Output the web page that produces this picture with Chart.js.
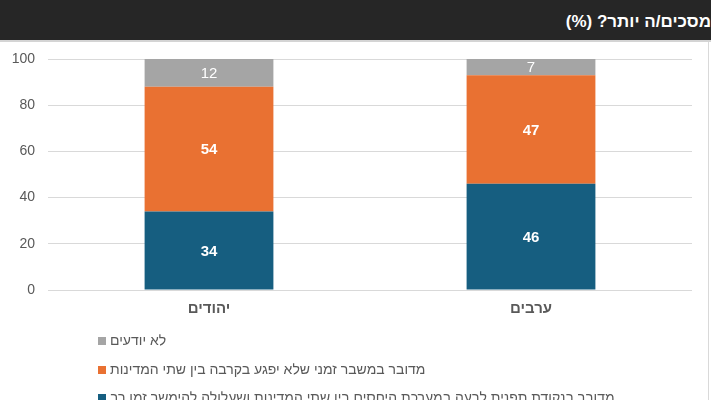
<!DOCTYPE html>
<html>
<head>
<meta charset="utf-8">
<script src="https://cdn.jsdelivr.net/npm/chart.js@4.4.0/dist/chart.umd.min.js"></script>
<style>
    body { margin: 0; background: #fff; width: 711px; height: 400px; overflow: hidden; font-family: "Liberation Sans", Arial, sans-serif; }
    #title { height: 40px; background: #262626; color: #fff; border-bottom: 2px solid #d4d4d4; direction: rtl; text-align: right; font-weight: bold; font-size: 17px; line-height: 44px; white-space: nowrap; overflow: hidden; }
    #wrap { position: relative; width: 708px; height: 358px; border-right: 1px solid #d9d9d9; }
</style>
</head>
<body>
<div id="title">מסכים/ה יותר? (%)</div>
<div id="wrap"><canvas id="chart"></canvas></div>
<script>
const categories = ['יהודים', 'ערבים'];
const turningPoint = [34, 46];
const temporaryCrisis = [54, 47];
const dontKnow = [12, 7];
const seriesLabels = [
    'מדובר בנקודת תפנית לרעה במערכת היחסים בין שתי המדינות ושעלולה להימשך זמן רב',
    'מדובר במשבר זמני שלא יפגע בקרבה בין שתי המדינות',
    'לא יודעים'
];
const seriesColors = ['#165e80', '#e97132', '#a5a5a5'];
const yTicks = [0, 20, 40, 60, 80, 100];

const FONT = '"Liberation Sans", Arial, sans-serif';

// labels inside the bars
const barLabels = {
    id: 'barLabels',
    afterDatasetsDraw(chart) {
        const ctx = chart.ctx;
        ctx.save();
        ctx.textAlign = 'center';
        ctx.textBaseline = 'middle';
        ctx.fillStyle = '#fff';
        chart.data.datasets.forEach((ds, i) => {
            ctx.font = (i === 2 ? 'normal 15px ' : 'bold 15px ') + FONT;
            chart.getDatasetMeta(i).data.forEach((bar, j) => {
                ctx.fillText(ds.data[j], bar.x, (bar.y + bar.base) / 2 + 1);
            });
        });
        ctx.restore();
    }
};

// vertical legend, last series on top
const listLegend = {
    id: 'listLegend',
    afterDraw(chart) {
        const ctx = chart.ctx;
        const rows = [299, 328, 356];
        ctx.save();
        ctx.font = '14px ' + FONT;
        ctx.textBaseline = 'middle';
        ctx.textAlign = 'left';
        const ds = chart.data.datasets.slice().reverse();
        ds.forEach((d, k) => {
            ctx.fillStyle = d.backgroundColor;
            ctx.fillRect(98, rows[k] - 4, 8, 8);
            ctx.fillStyle = '#595959';
            ctx.fillText(d.label, 110, rows[k]);
        });
        ctx.restore();
    }
};

new Chart(document.getElementById('chart'), {
    type: 'bar',
    data: {
        labels: categories,
        datasets: [
            { label: seriesLabels[0], data: turningPoint, backgroundColor: seriesColors[0] },
            { label: seriesLabels[1], data: temporaryCrisis, backgroundColor: seriesColors[1] },
            { label: seriesLabels[2], data: dontKnow, backgroundColor: seriesColors[2] }
        ]
    },
    options: {
        responsive: true,
        maintainAspectRatio: false,
        animation: false,
        barPercentage: 0.4,
        categoryPercentage: 1,
        layout: { padding: { top: 17, right: 16, bottom: 80, left: 0 } },
        plugins: { legend: { display: false }, tooltip: { enabled: false } },
        scales: {
            x: {
                stacked: true,
                grid: { display: false, drawTicks: false },
                border: { display: false },
                ticks: { color: '#595959', font: { family: FONT, size: 15, weight: 'bold' }, padding: 10 },
                afterFit: s => { s.height = 30; s.paddingLeft = 0; s.paddingRight = 0; }
            },
            y: {
                stacked: true,
                min: 0,
                max: 100,
                afterBuildTicks: s => { s.ticks = yTicks.map(v => ({ value: v })); },
                grid: { color: '#d9d9d9', drawTicks: false },
                border: { display: false },
                ticks: { color: '#595959', font: { family: FONT, size: 14 }, padding: 13 },
                afterFit: s => { s.width = 48; s.paddingTop = 0; s.paddingBottom = 0; }
            }
        }
    },
    plugins: [barLabels, listLegend]
});
</script>
</body>
</html>
